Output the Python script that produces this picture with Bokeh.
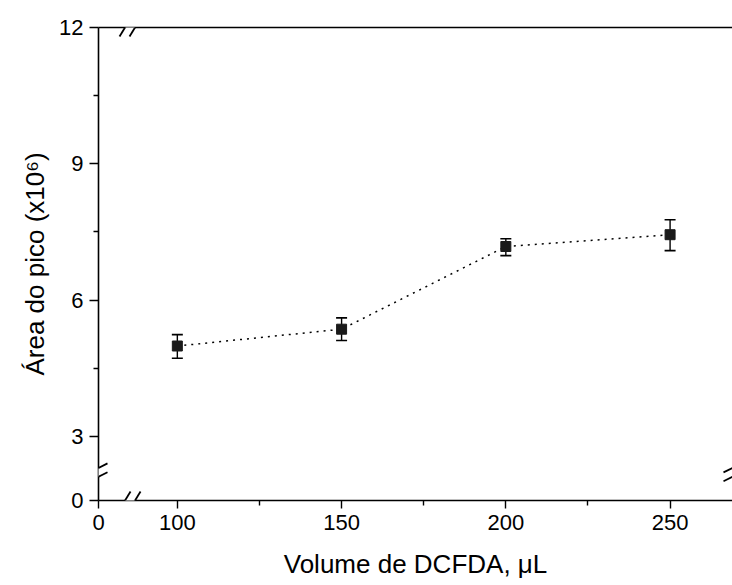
from bokeh.plotting import figure
from bokeh.models import (Range1d, FixedTicker, CustomJSTickFormatter, LinearAxis,
                          Whisker, TeeHead, ColumnDataSource, PolyAnnotation, Arrow)
from bokeh.embed import file_html
from bokeh.resources import INLINE

# ---- data ----
volume = [100, 150, 200, 250]
area = [4.99, 5.36, 7.18, 7.44]
area_upper = [5.24, 5.61, 7.35, 7.77]
area_lower = [4.72, 5.11, 6.98, 7.09]

# broken-axis positions ("0" is drawn at the compressed position below the break)
X_ZERO = 76.0
Y_ZERO = 1.59
X_END = 269.0
Y_END = 12.0
X_BREAK = 85.6
Y_BREAK = 2.21

x_ticks = [X_ZERO, 100, 150, 200, 250]
x_tick_labels = ["0", "100", "150", "200", "250"]
x_minor = [125, 175, 225]
y_ticks = [Y_ZERO, 3, 6, 9, 12]
y_tick_labels = ["0", "3", "6", "9", "12"]
y_minor = [4.5, 7.5, 10.5]

W, H = 732, 585
BL, BR, BT, BB = 98, 0, 27, 85
FONT = "Liberation Sans"

p = figure(width=W, height=H, output_backend="svg", toolbar_location=None,
           x_range=Range1d(X_ZERO, X_END), y_range=Range1d(Y_ZERO, Y_END),
           min_border_left=BL, min_border_right=BR, min_border_top=BT, min_border_bottom=BB,
           x_axis_label="Volume de DCFDA, \u03bcL", y_axis_label="\u00c1rea do pico (x10\u2076)")
p.outline_line_color = None
p.grid.visible = False
p.background_fill_color = "white"
p.border_fill_color = "white"

fmt_code = """
let best = 0; let bd = Infinity;
for (let i = 0; i < tvals.length; i++) { const d = Math.abs(tvals[i] - tick); if (d < bd) { bd = d; best = i; } }
return tlabels[best];
"""
p.xaxis.ticker = FixedTicker(ticks=x_ticks, minor_ticks=x_minor)
p.yaxis.ticker = FixedTicker(ticks=y_ticks, minor_ticks=y_minor)
p.xaxis.formatter = CustomJSTickFormatter(args=dict(tvals=x_ticks, tlabels=x_tick_labels), code=fmt_code)
p.yaxis.formatter = CustomJSTickFormatter(args=dict(tvals=y_ticks, tlabels=y_tick_labels), code=fmt_code)

for ax in (p.xaxis, p.yaxis):
    ax.axis_line_width = 1.6
    ax.axis_line_color = "black"
    ax.major_tick_in = 0
    ax.minor_tick_in = 0
    ax.major_tick_line_width = 1.4
    ax.minor_tick_line_width = 1.4
    ax.major_tick_line_color = "black"
    ax.minor_tick_line_color = "black"
    ax.major_label_text_font = FONT
    ax.major_label_text_font_size = "22px"
    ax.major_label_text_color = "black"
    ax.axis_label_text_font = FONT
    ax.axis_label_text_font_size = "26px"
    ax.axis_label_text_font_style = "normal"
    ax.axis_label_text_color = "black"

p.xaxis.major_tick_out = 8
p.xaxis.minor_tick_out = 5
p.xaxis.major_label_standoff = 6
p.xaxis.axis_label_standoff = 16
p.yaxis.major_tick_out = 9
p.yaxis.minor_tick_out = 5
p.yaxis.major_label_standoff = 6
p.yaxis.axis_label_standoff = 6

top = LinearAxis(ticker=FixedTicker(ticks=[]), major_tick_out=0, minor_tick_out=0,
                 major_tick_in=0, minor_tick_in=0, major_label_standoff=0,
                 axis_line_width=1.6, axis_line_color="black")
p.add_layout(top, "above")

src = ColumnDataSource(dict(x=volume, y=area, upper=area_upper, lower=area_lower))

p.line("x", "y", source=src, line_color="black", line_width=1.5, line_dash="2 5")
p.add_layout(Whisker(source=src, base="x", upper="upper", lower="lower",
                     line_color="black", line_width=1.4,
                     upper_head=TeeHead(size=11, line_color="black", line_width=1.6),
                     lower_head=TeeHead(size=11, line_color="black", line_width=1.6)))
p.scatter("x", "y", source=src, marker="square", size=10, fill_color="#1a1a1a",
          line_color="#1a1a1a")

# ---- axis break marks ----
sx = (W - BL - BR) / (X_END - X_ZERO)
sy = (H - BT - BB) / (Y_END - Y_ZERO)

def pt(ax, ay, dx, dy):
    return ax + dx / sx, ay - dy / sy

def add_gap(ax, ay, offs):
    pts = [pt(ax, ay, dx, dy) for dx, dy in offs]
    p.add_layout(PolyAnnotation(xs=[q[0] for q in pts], ys=[q[1] for q in pts],
                                fill_color="white", fill_alpha=1.0, line_color=None))

def add_slash(ax, ay, a, b):
    x0, y0 = pt(ax, ay, *a)
    x1, y1 = pt(ax, ay, *b)
    p.add_layout(Arrow(x_start=x0, y_start=y0, x_end=x1, y_end=y1, end=None,
                       line_color="black", line_width=1.8))

def vbreak(ax, ay):
    add_gap(ax, ay, [(-4, -2.4), (4, -6.4), (4, 2.4), (-4, 6.4)])
    for c in (-4.4, 4.4):
        add_slash(ax, ay, (-9, c + 4.5), (9, c - 4.5))

def hbreak(ax, ay):
    add_gap(ax, ay, [(-7.4, 4), (-2.6, -4), (7.4, -4), (2.6, 4)])
    for c in (-5, 5):
        add_slash(ax, ay, (c - 5.5, 9), (c + 5.5, -9))

vbreak(X_ZERO, Y_BREAK)
vbreak(X_END, Y_BREAK)
hbreak(X_BREAK, Y_ZERO)
hbreak(X_BREAK, Y_END)

open("out.html", "w").write(file_html(p, INLINE))
